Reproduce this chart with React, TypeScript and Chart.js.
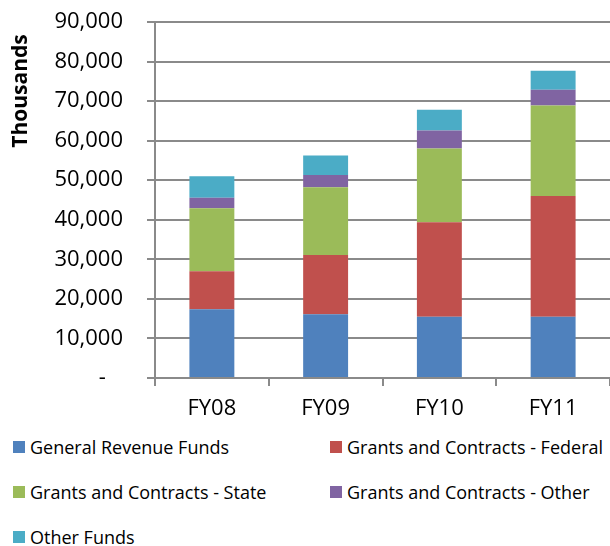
import React, { useEffect, useRef } from "react";
import { Chart, registerables } from "chart.js";

Chart.register(...registerables);

const categories = ["FY08", "FY09", "FY10", "FY11"];
const generalRevenue = [17400, 16100, 15500, 15500];
const grantsFederal = [9600, 15000, 23900, 30500];
const grantsState = [15900, 17100, 18600, 22900];
const grantsOther = [2700, 3100, 4600, 4000];
const otherFunds = [5400, 4950, 5200, 4800];

const seriesNames = [
  "General Revenue Funds",
  "Grants and Contracts - Federal",
  "Grants and Contracts - State",
  "Grants and Contracts - Other",
  "Other Funds",
];
const seriesColors = ["#4F81BD", "#C0504D", "#9BBB59", "#8064A2", "#4BACC6"];
const seriesData = [generalRevenue, grantsFederal, grantsState, grantsOther, otherFunds];
const yTitle = "Thousands";

const FONT = "'Open Sans', sans-serif";
const GRID = "#8a8a8a";

const yTitlePlugin = {
  id: "yTitlePlugin",
  afterDraw(chart: any) {
    const ctx = chart.ctx;
    ctx.save();
    ctx.translate(21, 91);
    ctx.rotate(-Math.PI / 2);
    ctx.font = `bold 21px ${FONT}`;
    ctx.fillStyle = "#000";
    ctx.textAlign = "center";
    ctx.textBaseline = "middle";
    ctx.fillText(yTitle, 0, 0);
    ctx.restore();
  },
};

export default function App() {
  const ref = useRef<HTMLCanvasElement | null>(null);

  useEffect(() => {
    if (!ref.current) return;
    const chart = new Chart(ref.current, {
      type: "bar",
      data: {
        labels: categories,
        datasets: seriesData.map((d, i) => ({
          label: seriesNames[i],
          data: d,
          backgroundColor: seriesColors[i],
          borderWidth: 0,
          barPercentage: 0.395,
          categoryPercentage: 1,
        })),
      },
      plugins: [yTitlePlugin],
      options: {
        animation: false,
        responsive: false,
        maintainAspectRatio: false,
        layout: { padding: 0 },
        plugins: {
          legend: { display: false },
          tooltip: { enabled: false },
        },
        scales: {
          x: {
            stacked: true,
            grid: {
              drawOnChartArea: false,
              drawTicks: true,
              tickLength: 8,
              color: GRID,
              lineWidth: 2,
            },
            border: { color: GRID, width: 2 },
            ticks: {
              color: "#000",
              padding: 10,
              font: { family: FONT, size: 22 },
            },
            afterFit: (s: any) => {
              s.height = 52;
            },
          },
          y: {
            stacked: true,
            min: 0,
            max: 90000,
            grid: {
              drawTicks: true,
              tickLength: 8,
              color: GRID,
              lineWidth: 2,
            },
            border: { color: GRID, width: 2 },
            ticks: {
              stepSize: 10000,
              color: "#000",
              padding: 24,
              font: { family: FONT, size: 22 },
              callback: (v: any) =>
                Number(v) === 0 ? "-   " : Number(v).toLocaleString("en-US"),
            },
            afterFit: (s: any) => {
              s.width = 155;
              s.paddingTop = 22;
              s.paddingBottom = 14;
            },
          },
        },
      },
    });
    return () => chart.destroy();
  }, []);

  const rows = [
    [0, 1],
    [2, 3],
    [4],
  ];

  return (
    <div
      style={{
        position: "absolute",
        left: 0,
        top: 0,
        width: 610,
        height: 546,
        background: "#fff",
        overflow: "hidden",
      }}
    >
      <canvas ref={ref} width={610} height={430} style={{ display: "block" }} />
      {rows.map((row, r) =>
        row.map((si, c) => (
          <div
            key={si}
            style={{
              position: "absolute",
              left: c === 0 ? 13 : 330,
              top: 447 + r * 45 - 12,
              height: 24,
              display: "flex",
              alignItems: "center",
              fontFamily: FONT,
              fontSize: 18,
              color: "#000",
              whiteSpace: "nowrap",
            }}
          >
            <span
              style={{
                display: "inline-block",
                width: 12,
                height: 12,
                background: seriesColors[si],
                marginRight: 5,
              }}
            />
            <span>{seriesNames[si]}</span>
          </div>
        ))
      )}
    </div>
  );
}
